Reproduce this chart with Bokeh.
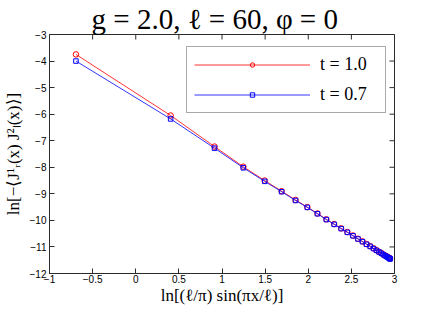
import math
from bokeh.plotting import figure
from bokeh.models import ColumnDataSource, FixedTicker, Range1d
from bokeh.embed import file_html
from bokeh.resources import INLINE

# x values: ln[(l/pi) sin(pi x / l)] at x = 0.5, 1.5, ..., 29.5 (l = 60)
x_vals = [-0.6933, 0.4045, 0.9134, 1.2472, 1.4948, 1.6910, 1.8523, 1.9890, 2.1068, 2.2097,
          2.3005, 2.3812, 2.4533, 2.5180, 2.5762, 2.6285, 2.6757, 2.7181, 2.7562, 2.7902,
          2.8204, 2.8471, 2.8704, 2.8905, 2.9075, 2.9215, 2.9327, 2.9410, 2.9465, 2.9492]
y_t10 = [-3.75, -6.05, -7.22, -7.98, -8.50, -8.90, -9.23, -9.50, -9.74, -9.96,
         -10.14, -10.30, -10.44, -10.57, -10.69, -10.79, -10.89, -10.97, -11.05, -11.12,
         -11.18, -11.23, -11.28, -11.32, -11.35, -11.38, -11.40, -11.42, -11.43, -11.44]
y_t07 = [-4.00, -6.18, -7.28, -8.02, -8.53, -8.92, -9.25, -9.51, -9.75, -9.97,
         -10.15, -10.31, -10.45, -10.58, -10.70, -10.80, -10.90, -10.98, -11.06, -11.13,
         -11.19, -11.24, -11.29, -11.33, -11.36, -11.39, -11.41, -11.43, -11.44, -11.45]
x_ticks = [-1, -0.5, 0, 0.5, 1, 1.5, 2, 2.5, 3]
x_tick_labels = ["\u22121", "\u22120.5", "0", "0.5", "1", "1.5", "2", "2.5", "3"]
y_ticks = [-3, -4, -5, -6, -7, -8, -9, -10, -11, -12]
y_tick_labels = ["\u22123", "\u22124", "\u22125", "\u22126", "\u22127", "\u22128",
                 "\u22129", "\u221210", "\u221211", "\u221212"]
series_labels = ["t = 1.0", "t = 0.7"]
title_text = "g = 2.0,  \u2113 = 60,  \u03c6 = 0"
x_label = "ln[(\u2113/\u03c0) sin(\u03c0x/\u2113)]"
y_label = "ln[\u2212\u27e8J\u00b9\u1d63(x) J\u00b2\u2097(x)\u27e9]"

src = ColumnDataSource(dict(x=x_vals, y1=y_t10, y2=y_t07))

axis_color = "#2b2b2b"
p = figure(width=420, height=312, output_backend="svg", toolbar_location=None,
           x_range=Range1d(x_ticks[0], x_ticks[-1]), y_range=Range1d(y_ticks[-1], y_ticks[0]),
           min_border_left=48, min_border_right=26, min_border_top=26, min_border_bottom=39,
           title=title_text)
p.title.text_font = "Liberation Serif"
p.title.text_font_size = "29px"
p.title.text_font_style = "normal"
p.title.align = "center"
p.title.text_color = "black"
p.title.standoff = 0
p.grid.visible = False
p.outline_line_color = axis_color
p.outline_line_width = 1
p.background_fill_color = "white"
p.border_fill_color = "white"

def style_axis(ax, ticks, labels):
    ax.ticker = FixedTicker(ticks=ticks)
    ax.major_label_overrides = {t: l for t, l in zip(ticks, labels)}
    ax.major_tick_in = 5
    ax.major_tick_out = 0
    ax.minor_tick_in = 0
    ax.minor_tick_out = 0
    ax.axis_line_color = axis_color
    ax.major_tick_line_color = axis_color
    ax.major_label_text_font = "Liberation Sans"
    ax.major_label_text_font_size = "10px"
    ax.major_label_text_color = "black"
    ax.major_label_standoff = 1
    ax.axis_label_text_font = "Liberation Serif"
    ax.axis_label_text_font_size = "17px"
    ax.axis_label_text_font_style = "normal"
    ax.axis_label_text_color = "black"
    ax.axis_label_standoff = 0

xa = p.xaxis[0]
ya = p.yaxis[0]
style_axis(xa, x_ticks, x_tick_labels)
style_axis(ya, y_ticks, y_tick_labels)
ya.major_label_standoff = 3
ya.axis_label_standoff = 4
xa.axis_label = x_label
ya.axis_label = y_label

# inward ticks on top and right edges of the box (half of each dash is clipped by the frame)
p.scatter(x=x_ticks, y=[y_ticks[0]] * len(x_ticks), marker="dash", size=10,
          angle=math.pi / 2, line_color=axis_color, line_width=1)
p.scatter(x=[x_ticks[-1]] * len(y_ticks), y=y_ticks, marker="dash", size=10,
          line_color=axis_color, line_width=1)

p.line("x", "y1", source=src, line_color="#ff0000", line_width=0.8,
       legend_label=series_labels[0])
p.scatter("x", "y1", source=src, marker="circle", size=5.5, fill_color=None,
          line_color="#ff0000", line_width=1, legend_label=series_labels[0])
p.line("x", "y2", source=src, line_color="#0000ff", line_width=0.8,
       legend_label=series_labels[1])
p.scatter("x", "y2", source=src, marker="square", size=4.5, fill_color=None,
          line_color="#0000ff", line_width=1, legend_label=series_labels[1])

legend = p.legend[0]
legend.location = (137, 160)
legend.padding = 7
legend.spacing = 9
legend.glyph_width = 116
legend.glyph_height = 11
legend.label_height = 20
legend.label_width = 58
legend.label_standoff = 10
legend.label_text_font = "Liberation Serif"
legend.label_text_font_size = "18px"
legend.label_text_color = "black"
legend.border_line_color = "#555555"
legend.border_line_width = 1
legend.background_fill_color = "white"
legend.background_fill_alpha = 1
legend.margin = 0

open("out.html", "w").write(file_html(p, INLINE))
